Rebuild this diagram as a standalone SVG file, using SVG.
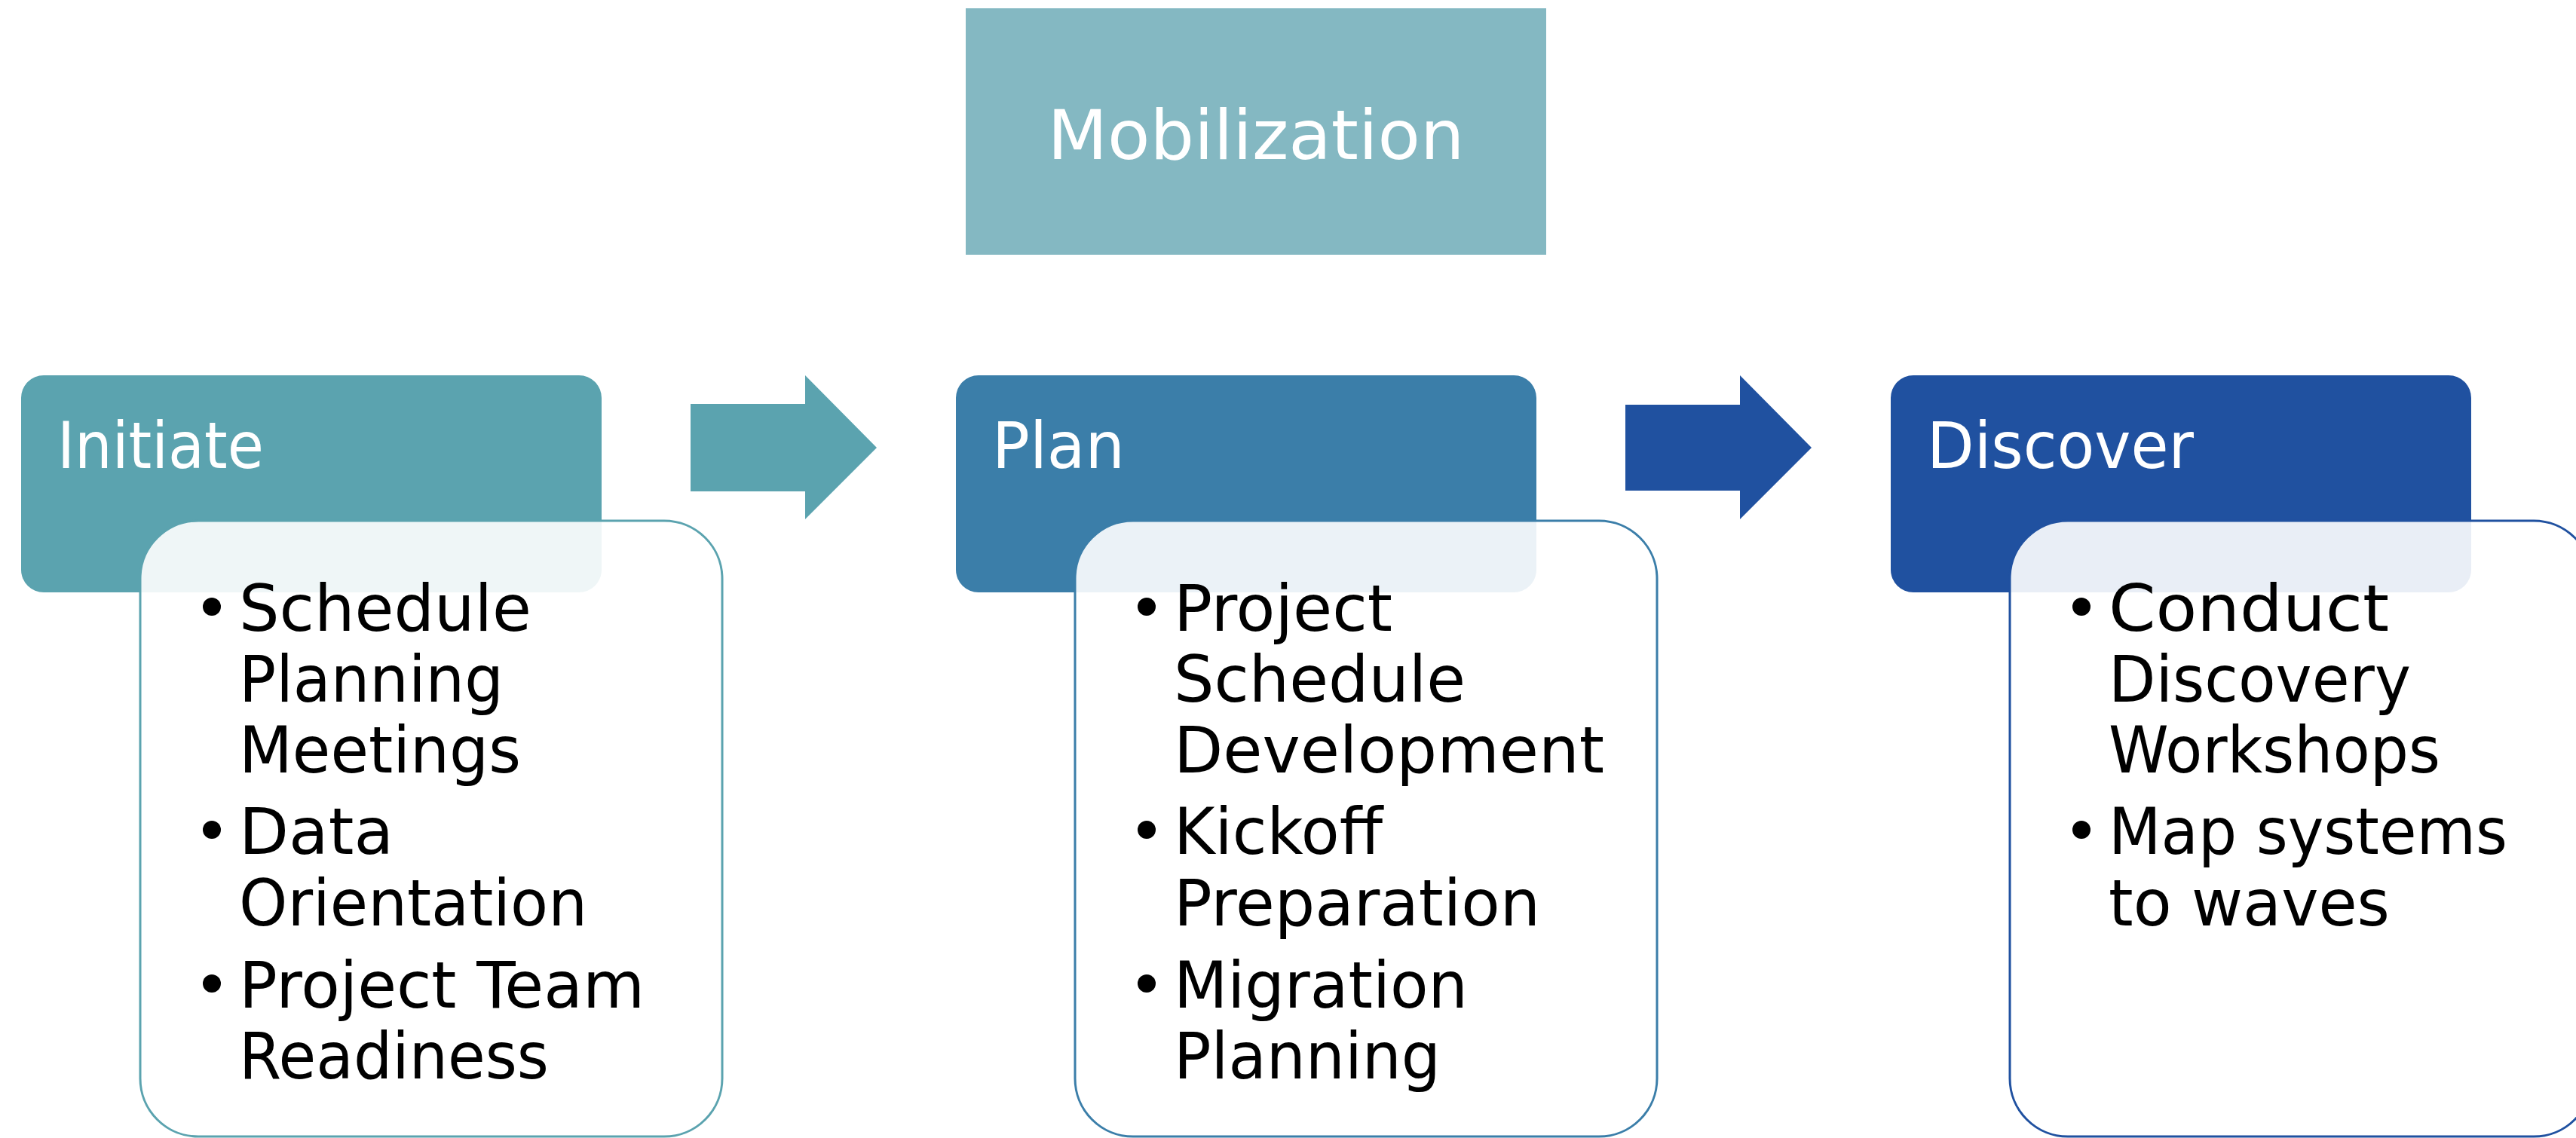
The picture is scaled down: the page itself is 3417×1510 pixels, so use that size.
<svg xmlns="http://www.w3.org/2000/svg" width="3417" height="1510" viewBox="0 0 3417 1510">
<defs>
<style>
.t{font-family:"DejaVu Sans","Liberation Sans",sans-serif;font-size:86px}
.title{fill:#ffffff}
.item{fill:#000000}
.mob{font-family:"DejaVu Sans","Liberation Sans",sans-serif;font-size:91px;fill:#ffffff}
.card{fill:#ffffff;fill-opacity:0.9;stroke-width:3}
</style>
</defs>
<rect x="0" y="0" width="3417" height="1510" fill="#ffffff"/>

<g id="mobilization">
<rect x="1281" y="11" width="770" height="327" fill="#84B8C2"/>
<text class="mob" x="1666" y="211" text-anchor="middle" textLength="553" lengthAdjust="spacingAndGlyphs">Mobilization</text>
</g>

<g id="connectors">
<polygon points="916,536 1068,536 1068,498 1163,594 1068,689 1068,652 916,652" fill="#5BA3AF"/>
<polygon points="2156,537 2308,537 2308,498 2403,594 2308,689 2308,651 2156,651" fill="#2051A0"/>
</g>

<g id="initiate">
<rect x="28" y="498" width="770" height="288" rx="30" fill="#5BA3AF"/>
<text class="t title" x="76" y="621" textLength="274" lengthAdjust="spacingAndGlyphs">Initiate</text>
</g>
<g id="initiate-tasks">
<rect class="card" x="186" y="691" width="772" height="817" rx="77" stroke="#5BA3AF"/>
<circle cx="281" cy="805" r="12"/>
<circle cx="281" cy="1101" r="12"/>
<circle cx="281" cy="1305" r="12"/>
<text class="t item" x="317" y="837" textLength="388" lengthAdjust="spacingAndGlyphs">Schedule</text>
<text class="t item" x="317" y="931" textLength="351" lengthAdjust="spacingAndGlyphs">Planning</text>
<text class="t item" x="317" y="1025" textLength="374" lengthAdjust="spacingAndGlyphs">Meetings</text>
<text class="t item" x="317" y="1133" textLength="205" lengthAdjust="spacingAndGlyphs">Data</text>
<text class="t item" x="317" y="1228" textLength="462" lengthAdjust="spacingAndGlyphs">Orientation</text>
<text class="t item" x="317" y="1337" textLength="538" lengthAdjust="spacingAndGlyphs">Project Team</text>
<text class="t item" x="317" y="1431" textLength="411" lengthAdjust="spacingAndGlyphs">Readiness</text>
</g>

<g id="plan">
<rect x="1268" y="498" width="770" height="288" rx="30" fill="#3B7EA9"/>
<text class="t title" x="1316" y="621" textLength="176" lengthAdjust="spacingAndGlyphs">Plan</text>
</g>
<g id="plan-tasks">
<rect class="card" x="1426" y="691" width="772" height="817" rx="77" stroke="#3B7EA9"/>
<circle cx="1521" cy="805" r="12"/>
<circle cx="1521" cy="1101" r="12"/>
<circle cx="1521" cy="1305" r="12"/>
<text class="t item" x="1557" y="837" textLength="290" lengthAdjust="spacingAndGlyphs">Project</text>
<text class="t item" x="1557" y="931" textLength="387" lengthAdjust="spacingAndGlyphs">Schedule</text>
<text class="t item" x="1557" y="1025" textLength="571" lengthAdjust="spacingAndGlyphs">Development</text>
<text class="t item" x="1557" y="1133" textLength="277" lengthAdjust="spacingAndGlyphs">Kickoff</text>
<text class="t item" x="1557" y="1228" textLength="486" lengthAdjust="spacingAndGlyphs">Preparation</text>
<text class="t item" x="1557" y="1337" textLength="390" lengthAdjust="spacingAndGlyphs">Migration</text>
<text class="t item" x="1557" y="1431" textLength="354" lengthAdjust="spacingAndGlyphs">Planning</text>
</g>

<g id="discover">
<rect x="2508" y="498" width="770" height="288" rx="30" fill="#2051A0"/>
<text class="t title" x="2556" y="621" textLength="354" lengthAdjust="spacingAndGlyphs">Discover</text>
</g>
<g id="discover-tasks">
<rect class="card" x="2666" y="691" width="772" height="817" rx="77" stroke="#2051A0"/>
<circle cx="2761" cy="805" r="12"/>
<circle cx="2761" cy="1101" r="12"/>
<text class="t item" x="2797" y="837" textLength="372" lengthAdjust="spacingAndGlyphs">Conduct</text>
<text class="t item" x="2797" y="931" textLength="401" lengthAdjust="spacingAndGlyphs">Discovery</text>
<text class="t item" x="2797" y="1025" textLength="440" lengthAdjust="spacingAndGlyphs">Workshops</text>
<text class="t item" x="2797" y="1133" textLength="529" lengthAdjust="spacingAndGlyphs">Map systems</text>
<text class="t item" x="2797" y="1228" textLength="373" lengthAdjust="spacingAndGlyphs">to waves</text>
</g>
</svg>
